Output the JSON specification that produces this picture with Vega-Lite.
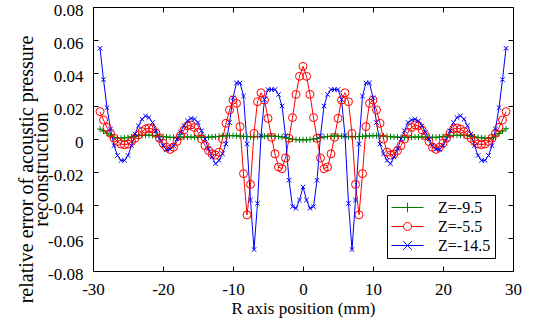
{
"$schema":"https://vega.github.io/schema/vega-lite/v6.json",
"width":420,"height":264,
"autosize":{"type":"none"},
"padding":{"left":93,"top":7,"right":28,"bottom":55},
"background":"white",
"config":{"view":{"stroke":"black","strokeWidth":1},"font":"Liberation Serif",
"axis":{"grid":false,"domain":false,"tickColor":"black","tickWidth":1,"tickSize":-5,"labelColor":"black","labelFont":"Liberation Serif","labelFontSize":17,"titleFont":"Liberation Serif","titleFontWeight":"normal","titleColor":"black","labelFlush":false,"labelOverlap":false},
"legend":{"labelFont":"Liberation Serif"}},
"data":{"values":[
{"s":"Z=-9.5","x":-29,"y":0.006},{"s":"Z=-9.5","x":-28.5,"y":0.0048},{"s":"Z=-9.5","x":-28,"y":0.0035},{"s":"Z=-9.5","x":-27.5,"y":0.002},{"s":"Z=-9.5","x":-27,"y":0.001},{"s":"Z=-9.5","x":-26.5,"y":0.0005},{"s":"Z=-9.5","x":-26,"y":0.0005},{"s":"Z=-9.5","x":-25.5,"y":0.0007},{"s":"Z=-9.5","x":-25,"y":0.001},{"s":"Z=-9.5","x":-24.5,"y":0.0013},{"s":"Z=-9.5","x":-24,"y":0.0017},{"s":"Z=-9.5","x":-23.5,"y":0.002},{"s":"Z=-9.5","x":-23,"y":0.0022},{"s":"Z=-9.5","x":-22.5,"y":0.0023},{"s":"Z=-9.5","x":-22,"y":0.0023},{"s":"Z=-9.5","x":-21.5,"y":0.0022},{"s":"Z=-9.5","x":-21,"y":0.002},{"s":"Z=-9.5","x":-20.5,"y":0.0017},{"s":"Z=-9.5","x":-20,"y":0.0015},{"s":"Z=-9.5","x":-19.5,"y":0.0012},{"s":"Z=-9.5","x":-19,"y":0.001},{"s":"Z=-9.5","x":-18.5,"y":0.001},{"s":"Z=-9.5","x":-18,"y":0.001},{"s":"Z=-9.5","x":-17.5,"y":0.0011},{"s":"Z=-9.5","x":-17,"y":0.0012},{"s":"Z=-9.5","x":-16.5,"y":0.0012},{"s":"Z=-9.5","x":-16,"y":0.0012},{"s":"Z=-9.5","x":-15.5,"y":0.0011},{"s":"Z=-9.5","x":-15,"y":0.001},{"s":"Z=-9.5","x":-14.5,"y":0.001},{"s":"Z=-9.5","x":-14,"y":0.001},{"s":"Z=-9.5","x":-13.5,"y":0.0011},{"s":"Z=-9.5","x":-13,"y":0.0012},{"s":"Z=-9.5","x":-12.5,"y":0.0014},{"s":"Z=-9.5","x":-12,"y":0.0016},{"s":"Z=-9.5","x":-11.5,"y":0.0018},{"s":"Z=-9.5","x":-11,"y":0.002},{"s":"Z=-9.5","x":-10.5,"y":0.002},{"s":"Z=-9.5","x":-10,"y":0.002},{"s":"Z=-9.5","x":-9.5,"y":0.0019},{"s":"Z=-9.5","x":-9,"y":0.0018},{"s":"Z=-9.5","x":-8.5,"y":0.0016},{"s":"Z=-9.5","x":-8,"y":0.0015},{"s":"Z=-9.5","x":-7.5,"y":0.0014},{"s":"Z=-9.5","x":-7,"y":0.0014},{"s":"Z=-9.5","x":-6.5,"y":0.0015},{"s":"Z=-9.5","x":-6,"y":0.0016},{"s":"Z=-9.5","x":-5.5,"y":0.0017},{"s":"Z=-9.5","x":-5,"y":0.0018},{"s":"Z=-9.5","x":-4.5,"y":0.0018},{"s":"Z=-9.5","x":-4,"y":0.0017},{"s":"Z=-9.5","x":-3.5,"y":0.0015},{"s":"Z=-9.5","x":-3,"y":0.0012},{"s":"Z=-9.5","x":-2.5,"y":0.0008},{"s":"Z=-9.5","x":-2,"y":0.0003},{"s":"Z=-9.5","x":-1.5,"y":-0.0001},{"s":"Z=-9.5","x":-1,"y":-0.0004},{"s":"Z=-9.5","x":-0.5,"y":-0.0005},{"s":"Z=-9.5","x":0,"y":-0.0005},
{"s":"Z=-9.5","x":0.5,"y":-0.0005},{"s":"Z=-9.5","x":1,"y":-0.0004},{"s":"Z=-9.5","x":1.5,"y":-0.0001},{"s":"Z=-9.5","x":2,"y":0.0003},{"s":"Z=-9.5","x":2.5,"y":0.0008},{"s":"Z=-9.5","x":3,"y":0.0012},{"s":"Z=-9.5","x":3.5,"y":0.0015},{"s":"Z=-9.5","x":4,"y":0.0017},{"s":"Z=-9.5","x":4.5,"y":0.0018},{"s":"Z=-9.5","x":5,"y":0.0018},{"s":"Z=-9.5","x":5.5,"y":0.0017},{"s":"Z=-9.5","x":6,"y":0.0016},{"s":"Z=-9.5","x":6.5,"y":0.0015},{"s":"Z=-9.5","x":7,"y":0.0014},{"s":"Z=-9.5","x":7.5,"y":0.0014},{"s":"Z=-9.5","x":8,"y":0.0015},{"s":"Z=-9.5","x":8.5,"y":0.0016},{"s":"Z=-9.5","x":9,"y":0.0018},{"s":"Z=-9.5","x":9.5,"y":0.0019},{"s":"Z=-9.5","x":10,"y":0.002},{"s":"Z=-9.5","x":10.5,"y":0.002},{"s":"Z=-9.5","x":11,"y":0.002},{"s":"Z=-9.5","x":11.5,"y":0.0018},{"s":"Z=-9.5","x":12,"y":0.0016},{"s":"Z=-9.5","x":12.5,"y":0.0014},{"s":"Z=-9.5","x":13,"y":0.0012},{"s":"Z=-9.5","x":13.5,"y":0.0011},{"s":"Z=-9.5","x":14,"y":0.001},{"s":"Z=-9.5","x":14.5,"y":0.001},{"s":"Z=-9.5","x":15,"y":0.001},{"s":"Z=-9.5","x":15.5,"y":0.0011},{"s":"Z=-9.5","x":16,"y":0.0012},{"s":"Z=-9.5","x":16.5,"y":0.0012},{"s":"Z=-9.5","x":17,"y":0.0012},{"s":"Z=-9.5","x":17.5,"y":0.0011},{"s":"Z=-9.5","x":18,"y":0.001},{"s":"Z=-9.5","x":18.5,"y":0.001},{"s":"Z=-9.5","x":19,"y":0.001},{"s":"Z=-9.5","x":19.5,"y":0.0012},{"s":"Z=-9.5","x":20,"y":0.0015},{"s":"Z=-9.5","x":20.5,"y":0.0017},{"s":"Z=-9.5","x":21,"y":0.002},{"s":"Z=-9.5","x":21.5,"y":0.0022},{"s":"Z=-9.5","x":22,"y":0.0023},{"s":"Z=-9.5","x":22.5,"y":0.0023},{"s":"Z=-9.5","x":23,"y":0.0022},{"s":"Z=-9.5","x":23.5,"y":0.002},{"s":"Z=-9.5","x":24,"y":0.0017},{"s":"Z=-9.5","x":24.5,"y":0.0013},{"s":"Z=-9.5","x":25,"y":0.001},{"s":"Z=-9.5","x":25.5,"y":0.0007},{"s":"Z=-9.5","x":26,"y":0.0005},{"s":"Z=-9.5","x":26.5,"y":0.0004},{"s":"Z=-9.5","x":27,"y":0.0008},{"s":"Z=-9.5","x":27.5,"y":0.0018},{"s":"Z=-9.5","x":28,"y":0.0033},{"s":"Z=-9.5","x":28.5,"y":0.0048},{"s":"Z=-9.5","x":29,"y":0.0062},
{"s":"Z=-5.5","x":-29,"y":0.0166},{"s":"Z=-5.5","x":-28.5,"y":0.0115},{"s":"Z=-5.5","x":-28,"y":0.007},{"s":"Z=-5.5","x":-27.5,"y":0.0035},{"s":"Z=-5.5","x":-27,"y":0.0005},{"s":"Z=-5.5","x":-26.5,"y":-0.0015},{"s":"Z=-5.5","x":-26,"y":-0.003},{"s":"Z=-5.5","x":-25.5,"y":-0.0035},{"s":"Z=-5.5","x":-25,"y":-0.003},{"s":"Z=-5.5","x":-24.5,"y":-0.0015},{"s":"Z=-5.5","x":-24,"y":0.0005},{"s":"Z=-5.5","x":-23.5,"y":0.0025},{"s":"Z=-5.5","x":-23,"y":0.0045},{"s":"Z=-5.5","x":-22.5,"y":0.006},{"s":"Z=-5.5","x":-22,"y":0.0067},{"s":"Z=-5.5","x":-21.5,"y":0.006},{"s":"Z=-5.5","x":-21,"y":0.0035},{"s":"Z=-5.5","x":-20.5,"y":0.0005},{"s":"Z=-5.5","x":-20,"y":-0.0025},{"s":"Z=-5.5","x":-19.5,"y":-0.005},{"s":"Z=-5.5","x":-19,"y":-0.0063},{"s":"Z=-5.5","x":-18.5,"y":-0.005},{"s":"Z=-5.5","x":-18,"y":-0.0015},{"s":"Z=-5.5","x":-17.5,"y":0.002},{"s":"Z=-5.5","x":-17,"y":0.0055},{"s":"Z=-5.5","x":-16.5,"y":0.008},{"s":"Z=-5.5","x":-16,"y":0.0085},{"s":"Z=-5.5","x":-15.5,"y":0.007},{"s":"Z=-5.5","x":-15,"y":0.004},{"s":"Z=-5.5","x":-14.5,"y":0},{"s":"Z=-5.5","x":-14,"y":-0.004},{"s":"Z=-5.5","x":-13.5,"y":-0.007},{"s":"Z=-5.5","x":-13,"y":-0.009},{"s":"Z=-5.5","x":-12.5,"y":-0.0097},{"s":"Z=-5.5","x":-12,"y":-0.008},{"s":"Z=-5.5","x":-11.5,"y":0},{"s":"Z=-5.5","x":-11,"y":0.0095},{"s":"Z=-5.5","x":-10.5,"y":0.0176},{"s":"Z=-5.5","x":-10,"y":0.0236},{"s":"Z=-5.5","x":-9.5,"y":0.0216},{"s":"Z=-5.5","x":-9,"y":0.0075},{"s":"Z=-5.5","x":-8.5,"y":-0.021},{"s":"Z=-5.5","x":-8,"y":-0.046},{"s":"Z=-5.5","x":-7.5,"y":-0.0275},{"s":"Z=-5.5","x":-7,"y":0.0034},{"s":"Z=-5.5","x":-6.5,"y":0.0226},{"s":"Z=-5.5","x":-6,"y":0.028},{"s":"Z=-5.5","x":-5.5,"y":0.0236},{"s":"Z=-5.5","x":-5,"y":0.0125},{"s":"Z=-5.5","x":-4.5,"y":0.001},{"s":"Z=-5.5","x":-4,"y":-0.009},{"s":"Z=-5.5","x":-3.5,"y":-0.017},{"s":"Z=-5.5","x":-3,"y":-0.018},{"s":"Z=-5.5","x":-2.5,"y":-0.0115},{"s":"Z=-5.5","x":-2,"y":0.0004},{"s":"Z=-5.5","x":-1.5,"y":0.013},{"s":"Z=-5.5","x":-1,"y":0.027},{"s":"Z=-5.5","x":-0.5,"y":0.038},{"s":"Z=-5.5","x":0,"y":0.044},
{"s":"Z=-5.5","x":0.5,"y":0.038},{"s":"Z=-5.5","x":1,"y":0.027},{"s":"Z=-5.5","x":1.5,"y":0.013},{"s":"Z=-5.5","x":2,"y":0.0004},{"s":"Z=-5.5","x":2.5,"y":-0.0115},{"s":"Z=-5.5","x":3,"y":-0.018},{"s":"Z=-5.5","x":3.5,"y":-0.017},{"s":"Z=-5.5","x":4,"y":-0.009},{"s":"Z=-5.5","x":4.5,"y":0.001},{"s":"Z=-5.5","x":5,"y":0.0125},{"s":"Z=-5.5","x":5.5,"y":0.0236},{"s":"Z=-5.5","x":6,"y":0.028},{"s":"Z=-5.5","x":6.5,"y":0.0226},{"s":"Z=-5.5","x":7,"y":0.0034},{"s":"Z=-5.5","x":7.5,"y":-0.0275},{"s":"Z=-5.5","x":8,"y":-0.046},{"s":"Z=-5.5","x":8.5,"y":-0.021},{"s":"Z=-5.5","x":9,"y":0.0075},{"s":"Z=-5.5","x":9.5,"y":0.0216},{"s":"Z=-5.5","x":10,"y":0.0236},{"s":"Z=-5.5","x":10.5,"y":0.0176},{"s":"Z=-5.5","x":11,"y":0.0095},{"s":"Z=-5.5","x":11.5,"y":0},{"s":"Z=-5.5","x":12,"y":-0.008},{"s":"Z=-5.5","x":12.5,"y":-0.0097},{"s":"Z=-5.5","x":13,"y":-0.009},{"s":"Z=-5.5","x":13.5,"y":-0.007},{"s":"Z=-5.5","x":14,"y":-0.004},{"s":"Z=-5.5","x":14.5,"y":0},{"s":"Z=-5.5","x":15,"y":0.004},{"s":"Z=-5.5","x":15.5,"y":0.007},{"s":"Z=-5.5","x":16,"y":0.0085},{"s":"Z=-5.5","x":16.5,"y":0.008},{"s":"Z=-5.5","x":17,"y":0.0055},{"s":"Z=-5.5","x":17.5,"y":0.002},{"s":"Z=-5.5","x":18,"y":-0.0015},{"s":"Z=-5.5","x":18.5,"y":-0.005},{"s":"Z=-5.5","x":19,"y":-0.0063},{"s":"Z=-5.5","x":19.5,"y":-0.005},{"s":"Z=-5.5","x":20,"y":-0.0025},{"s":"Z=-5.5","x":20.5,"y":0.0005},{"s":"Z=-5.5","x":21,"y":0.0035},{"s":"Z=-5.5","x":21.5,"y":0.006},{"s":"Z=-5.5","x":22,"y":0.0067},{"s":"Z=-5.5","x":22.5,"y":0.006},{"s":"Z=-5.5","x":23,"y":0.0045},{"s":"Z=-5.5","x":23.5,"y":0.0025},{"s":"Z=-5.5","x":24,"y":0.0005},{"s":"Z=-5.5","x":24.5,"y":-0.0015},{"s":"Z=-5.5","x":25,"y":-0.003},{"s":"Z=-5.5","x":25.5,"y":-0.0035},{"s":"Z=-5.5","x":26,"y":-0.003},{"s":"Z=-5.5","x":26.5,"y":-0.0015},{"s":"Z=-5.5","x":27,"y":0.0005},{"s":"Z=-5.5","x":27.5,"y":0.0035},{"s":"Z=-5.5","x":28,"y":0.007},{"s":"Z=-5.5","x":28.5,"y":0.0115},{"s":"Z=-5.5","x":29,"y":0.0166},
{"s":"Z=-14.5","x":-29,"y":0.055},{"s":"Z=-14.5","x":-28.5,"y":0.036},{"s":"Z=-14.5","x":-28,"y":0.019},{"s":"Z=-14.5","x":-27.5,"y":0.006},{"s":"Z=-14.5","x":-27,"y":-0.004},{"s":"Z=-14.5","x":-26.5,"y":-0.01},{"s":"Z=-14.5","x":-26,"y":-0.013},{"s":"Z=-14.5","x":-25.5,"y":-0.013},{"s":"Z=-14.5","x":-25,"y":-0.01},{"s":"Z=-14.5","x":-24.5,"y":-0.004},{"s":"Z=-14.5","x":-24,"y":0.003},{"s":"Z=-14.5","x":-23.5,"y":0.008},{"s":"Z=-14.5","x":-23,"y":0.012},{"s":"Z=-14.5","x":-22.5,"y":0.014},{"s":"Z=-14.5","x":-22,"y":0.013},{"s":"Z=-14.5","x":-21.5,"y":0.01},{"s":"Z=-14.5","x":-21,"y":0.005},{"s":"Z=-14.5","x":-20.5,"y":0},{"s":"Z=-14.5","x":-20,"y":-0.004},{"s":"Z=-14.5","x":-19.5,"y":-0.0065},{"s":"Z=-14.5","x":-19,"y":-0.006},{"s":"Z=-14.5","x":-18.5,"y":-0.004},{"s":"Z=-14.5","x":-18,"y":0},{"s":"Z=-14.5","x":-17.5,"y":0.004},{"s":"Z=-14.5","x":-17,"y":0.008},{"s":"Z=-14.5","x":-16.5,"y":0.011},{"s":"Z=-14.5","x":-16,"y":0.0125},{"s":"Z=-14.5","x":-15.5,"y":0.012},{"s":"Z=-14.5","x":-15,"y":0.01},{"s":"Z=-14.5","x":-14.5,"y":0.005},{"s":"Z=-14.5","x":-14,"y":0},{"s":"Z=-14.5","x":-13.5,"y":-0.006},{"s":"Z=-14.5","x":-13,"y":-0.011},{"s":"Z=-14.5","x":-12.5,"y":-0.015},{"s":"Z=-14.5","x":-12,"y":-0.013},{"s":"Z=-14.5","x":-11.5,"y":-0.009},{"s":"Z=-14.5","x":-11,"y":-0.003},{"s":"Z=-14.5","x":-10.5,"y":0.01},{"s":"Z=-14.5","x":-10,"y":0.025},{"s":"Z=-14.5","x":-9.5,"y":0.034},{"s":"Z=-14.5","x":-9,"y":0.034},{"s":"Z=-14.5","x":-8.5,"y":0.026},{"s":"Z=-14.5","x":-8,"y":-0.003},{"s":"Z=-14.5","x":-7.5,"y":-0.037},{"s":"Z=-14.5","x":-7,"y":-0.067},{"s":"Z=-14.5","x":-6.5,"y":-0.039},{"s":"Z=-14.5","x":-6,"y":0.002},{"s":"Z=-14.5","x":-5.5,"y":0.024},{"s":"Z=-14.5","x":-5,"y":0.03},{"s":"Z=-14.5","x":-4.5,"y":0.03},{"s":"Z=-14.5","x":-4,"y":0.03},{"s":"Z=-14.5","x":-3.5,"y":0.027},{"s":"Z=-14.5","x":-3,"y":0.02},{"s":"Z=-14.5","x":-2.5,"y":0.002},{"s":"Z=-14.5","x":-2,"y":-0.025},{"s":"Z=-14.5","x":-1.5,"y":-0.041},{"s":"Z=-14.5","x":-1,"y":-0.042},{"s":"Z=-14.5","x":-0.5,"y":-0.037},{"s":"Z=-14.5","x":0,"y":-0.029},
{"s":"Z=-14.5","x":0.5,"y":-0.037},{"s":"Z=-14.5","x":1,"y":-0.042},{"s":"Z=-14.5","x":1.5,"y":-0.041},{"s":"Z=-14.5","x":2,"y":-0.025},{"s":"Z=-14.5","x":2.5,"y":0.002},{"s":"Z=-14.5","x":3,"y":0.02},{"s":"Z=-14.5","x":3.5,"y":0.027},{"s":"Z=-14.5","x":4,"y":0.03},{"s":"Z=-14.5","x":4.5,"y":0.03},{"s":"Z=-14.5","x":5,"y":0.03},{"s":"Z=-14.5","x":5.5,"y":0.024},{"s":"Z=-14.5","x":6,"y":0.002},{"s":"Z=-14.5","x":6.5,"y":-0.039},{"s":"Z=-14.5","x":7,"y":-0.067},{"s":"Z=-14.5","x":7.5,"y":-0.037},{"s":"Z=-14.5","x":8,"y":-0.003},{"s":"Z=-14.5","x":8.5,"y":0.026},{"s":"Z=-14.5","x":9,"y":0.034},{"s":"Z=-14.5","x":9.5,"y":0.034},{"s":"Z=-14.5","x":10,"y":0.025},{"s":"Z=-14.5","x":10.5,"y":0.01},{"s":"Z=-14.5","x":11,"y":-0.003},{"s":"Z=-14.5","x":11.5,"y":-0.009},{"s":"Z=-14.5","x":12,"y":-0.013},{"s":"Z=-14.5","x":12.5,"y":-0.015},{"s":"Z=-14.5","x":13,"y":-0.011},{"s":"Z=-14.5","x":13.5,"y":-0.006},{"s":"Z=-14.5","x":14,"y":0},{"s":"Z=-14.5","x":14.5,"y":0.005},{"s":"Z=-14.5","x":15,"y":0.01},{"s":"Z=-14.5","x":15.5,"y":0.0115},{"s":"Z=-14.5","x":16,"y":0.012},{"s":"Z=-14.5","x":16.5,"y":0.011},{"s":"Z=-14.5","x":17,"y":0.008},{"s":"Z=-14.5","x":17.5,"y":0.004},{"s":"Z=-14.5","x":18,"y":0},{"s":"Z=-14.5","x":18.5,"y":-0.004},{"s":"Z=-14.5","x":19,"y":-0.006},{"s":"Z=-14.5","x":19.5,"y":-0.0065},{"s":"Z=-14.5","x":20,"y":-0.004},{"s":"Z=-14.5","x":20.5,"y":0},{"s":"Z=-14.5","x":21,"y":0.005},{"s":"Z=-14.5","x":21.5,"y":0.01},{"s":"Z=-14.5","x":22,"y":0.013},{"s":"Z=-14.5","x":22.5,"y":0.014},{"s":"Z=-14.5","x":23,"y":0.012},{"s":"Z=-14.5","x":23.5,"y":0.008},{"s":"Z=-14.5","x":24,"y":0.003},{"s":"Z=-14.5","x":24.5,"y":-0.004},{"s":"Z=-14.5","x":25,"y":-0.01},{"s":"Z=-14.5","x":25.5,"y":-0.013},{"s":"Z=-14.5","x":26,"y":-0.013},{"s":"Z=-14.5","x":26.5,"y":-0.01},{"s":"Z=-14.5","x":27,"y":-0.004},{"s":"Z=-14.5","x":27.5,"y":0.006},{"s":"Z=-14.5","x":28,"y":0.019},{"s":"Z=-14.5","x":28.5,"y":0.036},{"s":"Z=-14.5","x":29,"y":0.055}
]},
"resolve":{"axis":{"x":"independent","y":"independent"}},
"layer":[
{"mark":{"type":"line","strokeWidth":1},
 "encoding":{
  "x":{"field":"x","type":"quantitative","scale":{"domain":[-30,30],"nice":false,"zero":false},
   "axis":{"values":[-30,-20,-10,0,10,20,30],"labelFont":"Liberation Serif","labelFontSize":17,"labelPadding":15,"labelExpr":"datum.value < 0 ? '-' + abs(datum.value) : '' + datum.value","title":"R axis position (mm)","titleFont":"Liberation Serif","titleFontSize":17,"titlePadding":3}},
  "y":{"field":"y","type":"quantitative","scale":{"domain":[-0.08,0.08],"nice":false,"zero":false},
   "axis":{"values":[-0.08,-0.06,-0.04,-0.02,0,0.02,0.04,0.06,0.08],"labelFont":"Liberation Serif","labelFontSize":17,"labelPadding":15,"labelOffset":3,"labelBaseline":"middle","labelExpr":"datum.value == 0 ? '0' : (datum.value < 0 ? '-' : '') + format(abs(datum.value), '.2f')",
    "title":["relative error of acoustic pressure","reconstruction"],"titleFont":"Liberation Serif","titleFontSize":20,"titleLineHeight":15,"titleX":-61,"titleY":162,"titleAngle":270,"titleAlign":"center","titleBaseline":"alphabetic"}},
  "color":{"field":"s","type":"nominal","scale":{"domain":["Z=-9.5","Z=-5.5","Z=-14.5"],"range":["#008000","#ff0000","#0000ff"]},
   "legend":{"orient":"none","legendX":294,"legendY":188,"title":null,"strokeColor":"black","fillColor":"white","padding":4,"cornerRadius":0,
    "symbolType":"M-1,0H1","symbolSize":1024,"symbolStrokeWidth":1,"labelFont":"Liberation Serif","labelFontSize":16,"labelColor":"black","labelOffset":14,"clipHeight":17,"rowPadding":2,
    "labelExpr":"datum.label + '\u00a0\u00a0'",
    "encode":{"symbols":{"update":{"shape":{"signal":"datum.value === 'Z=-9.5' ? 'M-1,0H1M0,-0.3V0.3' : datum.value === 'Z=-5.5' ? 'M-1,0H-0.25M0.25,0H1M0.25,0A0.25,0.25 0 1,1 -0.25,0A0.25,0.25 0 1,1 0.25,0' : 'M-1,0H1M-0.27,-0.27L0.27,0.27M-0.27,0.27L0.27,-0.27'"},"size":{"value":1024},"fill":{"value":"transparent"},"strokeWidth":{"value":1}}}}}}
 }},
{"transform":[{"filter":{"field":"s","equal":"Z=-9.5"}}],
 "mark":{"type":"point","filled":false,"strokeWidth":1,"opacity":1,"shape":"M-1,0H1M0,-1V1","size":36,"color":"#008000"},
 "encoding":{"x":{"field":"x","type":"quantitative","axis":null},"y":{"field":"y","type":"quantitative","axis":null}}},
{"transform":[{"filter":{"field":"s","equal":"Z=-5.5"}}],
 "mark":{"type":"point","filled":false,"strokeWidth":1,"opacity":1,"shape":"circle","size":64,"color":"#ff0000"},
 "encoding":{"x":{"field":"x","type":"quantitative","axis":null},"y":{"field":"y","type":"quantitative","axis":null}}},
{"transform":[{"filter":{"field":"s","equal":"Z=-14.5"}}],
 "mark":{"type":"point","filled":false,"strokeWidth":1,"opacity":1,"shape":"M-1,-1L1,1M-1,1L1,-1","size":20,"color":"#0000ff"},
 "encoding":{"x":{"field":"x","type":"quantitative","axis":null},"y":{"field":"y","type":"quantitative","axis":null}}},
{"mark":{"type":"point","opacity":0},
 "encoding":{
  "x":{"field":"x","type":"quantitative","axis":{"orient":"top","values":[-30,-20,-10,0,10,20,30],"labels":false,"title":null}},
  "y":{"field":"y","type":"quantitative","axis":{"orient":"right","values":[-0.08,-0.06,-0.04,-0.02,0,0.02,0.04,0.06,0.08],"labels":false,"title":null}}
 }}
]
}
